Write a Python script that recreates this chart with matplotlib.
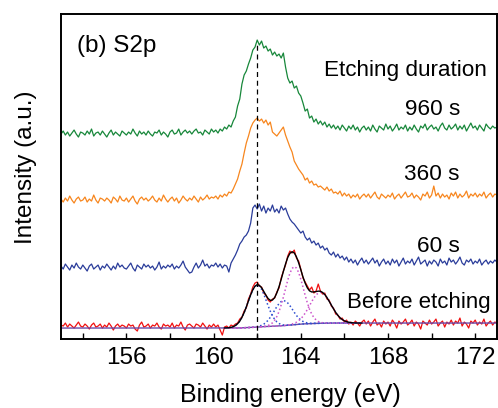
import numpy as np
import matplotlib.pyplot as plt

plt.rcParams['font.family'] = ['Liberation Sans', 'DejaVu Sans']

# binding energy grid (eV), 0.1 eV steps
be = np.linspace(153.0, 173.0, 201)
# sub-range used by the peak fit of the "before etching" spectrum
be_fit = np.linspace(160.5, 166.8, 64)

# spectra, stacked offsets already included (a.u.)
s960 = [205, 208, 204, 207, 203, 206, 209, 205, 202, 207,
        206, 204, 208, 205, 210, 203, 206, 207, 204, 208,
        205, 202, 206, 209, 204, 207, 205, 203, 208, 206,
        204, 207, 205, 210, 206, 203, 208, 205, 207, 204,
        208, 205, 203, 207, 206, 209, 204, 207, 205, 202,
        207, 209, 205, 206, 210, 204, 207, 209, 206, 208,
        205, 208, 210, 206, 207, 204, 209, 207, 205, 210,
        207, 209, 206, 210, 208, 212, 210, 214, 212, 218,
        222, 233, 240, 255, 264, 268, 275, 281, 289, 292,
        299, 294, 298, 291, 293, 288, 290, 284, 287, 283,
        285, 281, 286, 272, 261, 256, 258, 251, 253, 246,
        243, 236, 228, 230, 221, 223, 217, 220, 215, 218,
        214, 217, 212, 215, 211, 214, 210, 213, 209, 214,
        211, 208, 213, 210, 214, 209, 212, 207, 211, 213,
        209, 212, 208, 214, 210, 207, 213, 211, 209, 215,
        210, 213, 208, 211, 215, 209, 212, 210, 214, 208,
        212, 209, 214, 210, 207, 213, 211, 215, 209, 212,
        214, 210, 212, 208, 213, 216, 211, 209, 214, 210,
        212, 215, 209, 213, 210, 214, 208, 212, 216, 211,
        213, 209, 214, 211, 208, 215, 212, 210, 213, 211,
        212]

s360 = [140, 137, 141, 138, 143, 139, 136, 140, 142, 138,
        139, 142, 137, 140, 138, 144, 139, 136, 141, 140,
        138, 141, 139, 136, 142, 140, 137, 143, 139, 138,
        141, 137, 140, 143, 138, 135, 140, 142, 139, 141,
        138, 140, 143, 139, 137, 141, 138, 144, 140, 137,
        140, 142, 138, 141, 136, 139, 143, 140, 138, 141,
        139, 143, 140, 137, 142, 139, 141, 144, 140, 142,
        141, 143, 140, 144, 142, 145, 143, 147, 146, 150,
        155, 160, 168, 175, 186, 196, 203, 211, 216, 219,
        221, 218, 220, 216, 219, 214, 217, 207, 205, 203,
        206, 209, 212, 204, 198, 192, 187, 178, 174, 170,
        167, 164, 159, 161, 156, 158, 154, 155, 152, 153,
        151, 149, 152, 148, 150, 146, 147, 145, 148, 143,
        146, 143, 145, 141, 144, 142, 145, 140, 143, 145,
        142, 145, 141, 144, 147, 142, 140, 145, 143, 141,
        144, 142, 146, 140, 143, 145, 141, 144, 147, 142,
        143, 146, 141, 144, 142, 139, 145, 143, 147, 141,
        144, 153, 143, 146, 141, 145, 142, 144, 140, 146,
        143, 147, 141, 145, 142, 144, 148, 141, 145, 143,
        146, 142, 145, 143, 147, 141, 144, 146, 142, 145,
        144]

s60 = [73, 70, 75, 72, 69, 74, 71, 76, 72, 70,
       74, 71, 68, 73, 75, 70, 72, 74, 69, 73,
       71, 75, 72, 69, 73, 70, 76, 72, 74, 71,
       70, 73, 76, 71, 68, 74, 72, 70, 75, 72,
       74, 71, 73, 69, 72, 77, 70, 73, 71, 74,
       72, 75, 70, 73, 71, 74, 78, 72, 69, 66,
       67, 72, 76, 71, 74, 79, 73, 75, 71, 74,
       73, 76, 72, 75, 71, 74, 73, 67, 76, 80,
       84, 89, 95, 98, 102, 104, 108, 116, 131, 134,
       130, 135, 128, 133, 126, 131, 128, 134, 127, 130,
       126, 133, 129, 131, 125, 120, 117, 115, 112, 109,
       106, 108, 102, 99, 101, 96, 98, 94, 96, 91,
       93, 89, 91, 86, 84, 87, 82, 85, 81, 83,
       79, 82, 77, 80, 76, 79, 74, 78, 81, 76,
       79, 75, 78, 81, 76, 79, 73, 77, 80, 75,
       78, 74, 80, 76, 79, 73, 77, 81, 75, 78,
       76, 80, 74, 78, 82, 75, 77, 79, 73, 78,
       75, 79, 77, 73, 80, 76, 78, 74, 81, 77,
       79, 75, 78, 82, 76, 74, 79, 77, 80, 75,
       78, 76, 80, 74, 77, 79, 75, 78, 76, 79,
       77]

s0 = [14, 13, 16, 12, 15, 13, 11, 14, 17, 13,
      12, 15, 13, 10, 14, 16, 12, 13, 15, 11,
      14, 12, 16, 13, 9, 13, 15, 12, 14, 13,
      11, 15, 13, 14, 10, 8, 14, 17, 12, 13,
      15, 11, 14, 13, 16, 12, 10, 15, 13, 14,
      12, 16, 11, 14, 13, 17, 12, 9, 14, 15,
      13, 11, 15, 14, 12, 16, 13, 10, 14, 12,
      15, 12, 14, 9, 4, 12, 13, 11, 14, 13,
      15, 16, 20, 22, 28, 31, 40, 45, 52, 56,
      57, 53, 52, 46, 44, 39, 37, 40, 41, 47,
      51, 61, 68, 74, 83, 88, 86, 89, 81, 78,
      70, 61, 57, 53, 49, 52, 46, 48, 55, 48,
      45, 46, 40, 39, 33, 31, 25, 24, 20, 21,
      17, 19, 15, 17, 14, 18, 16, 13, 17, 19,
      15, 18, 13, 17, 20, 14, 16, 12, 18, 15,
      17, 13, 19, 16, 11, 18, 15, 17, 20, 14,
      16, 19, 13, 17, 15, 10, 18, 16, 14, 19,
      15, 17, 20, 13, 16, 18, 12, 17, 15, 19,
      14, 18, 16, 21, 13, 17, 15, 11, 18, 16,
      19, 14, 17, 15, 20, 13, 16, 18, 14, 17,
      16]

# fit of the "before etching" spectrum (on be_fit)
bg_fit = [11.0, 11.0, 11.0, 11.0, 11.0, 11.0, 11.1, 11.1, 11.2, 11.3,
          11.4, 11.5, 11.6, 11.7, 11.9, 12.0, 12.1, 12.3, 12.4, 12.5,
          12.6, 12.7, 12.8, 12.9, 13.0, 13.1, 13.2, 13.4, 13.6, 13.8,
          14.0, 14.2, 14.4, 14.6, 14.8, 14.9, 15.1, 15.2, 15.3, 15.4,
          15.5, 15.6, 15.7, 15.7, 15.8, 15.8, 15.9, 15.9, 15.9, 16.0,
          16.0, 16.0, 16.0, 16.0, 16.0, 16.0, 16.0, 16.0, 16.0, 16.0,
          16.0, 16.0, 16.0, 16.0]
bg_low = 11.0
bg_high = 16.0

p1 = [0.1, 0.2, 0.3, 0.7, 1.3, 2.5, 4.2, 6.8, 10.5, 15.1,
      20.7, 26.7, 32.6, 37.5, 40.8, 42.0, 40.8, 37.5, 32.6, 26.7,
      20.7, 15.1, 10.5, 6.8, 4.2, 2.5, 1.3, 0.7, 0.3, 0.2,
      0.1] + [0.0] * 33
p2 = [0.0] * 13 + [0.1, 0.2, 0.4, 0.8, 1.5, 2.5, 4.1, 6.2, 9.0, 12.3,
                   15.9, 19.4, 22.3, 24.3, 25.0, 24.3, 22.3, 19.4, 15.9, 12.3,
                   9.0, 6.2, 4.1, 2.5, 1.5, 0.8, 0.4, 0.2, 0.1] + [0.0] * 22
p3 = [0.0] * 17 + [0.1, 0.2, 0.5, 1.0, 1.9, 3.4, 5.9, 9.5, 14.4, 20.9,
                   28.5, 36.8, 45.0, 51.8, 56.4, 58.0, 56.4, 51.8, 45.0, 36.8,
                   28.5, 20.9, 14.4, 9.5, 5.9, 3.4, 1.9, 1.0, 0.5, 0.2,
                   0.1] + [0.0] * 16
p4 = [0.0] * 28 + [0.1, 0.2, 0.4, 0.8, 1.4, 2.2, 3.5, 5.3, 7.7, 10.7,
                   14.2, 18.0, 21.9, 25.5, 28.4, 30.3, 31.0, 30.3, 28.4, 25.5,
                   21.9, 18.0, 14.2, 10.7, 7.7, 5.3, 3.5, 2.2, 1.4, 0.8,
                   0.4, 0.2, 0.1] + [0.0] * 3

ref_be = 162.0
ref_top = 294

labels = ['960 s', '360 s', '60 s', 'Before etching']
colors = ['#17873a', '#f7861e', '#2a3c9a', '#f01010']

bg = np.array(bg_fit)
bg_all = np.array([bg_low] * 75 + bg_fit + [bg_high] * 62)
envelope = bg + np.array(p1) + np.array(p2) + np.array(p3) + np.array(p4)

fig = plt.figure(figsize=(4.98, 4.08), dpi=100)
ax = fig.add_axes([0.1225, 0.169, 0.8755, 0.7966])

for s, c in zip([s960, s360, s60, s0], colors):
    ax.plot(be, s, color=c, lw=0.9)

ax.plot(be, bg_all, color='#6a4aa8', lw=1.0)
dot = (0, (1, 1.6))
ax.plot(be_fit, bg + np.array(p1), color='#2f4fd0', ls=dot, lw=1.1)
ax.plot(be_fit, bg + np.array(p2), color='#2f4fd0', ls=dot, lw=1.1)
ax.plot(be_fit, bg + np.array(p3), color='#cc55cc', ls=dot, lw=1.1)
ax.plot(be_fit, bg + np.array(p4), color='#cc55cc', ls=dot, lw=1.1)
ax.plot(be_fit, envelope, color='k', lw=1.0)

ax.vlines(ref_be, 0, ref_top, colors='k', linestyles=(0, (4, 3)), lw=0.9)

ax.set_xlim(153, 173)
ax.set_ylim(0, 325)
ax.set_xticks(np.arange(154, 173, 2))
ax.set_xticklabels(['' if t % 4 else str(t) for t in range(154, 173, 2)])
ax.set_yticks([])
ax.tick_params(axis='x', direction='in', length=4, width=1, labelsize=17.5, pad=6)
for sp in ax.spines.values():
    sp.set_linewidth(1.4)

ax.set_xlabel('Binding energy (eV)', fontsize=18, labelpad=10)
ax.xaxis.label.set_x(0.527)
ax.set_ylabel('Intensity (a.u.)', fontsize=17.5, labelpad=17)
ax.yaxis.label.set_y(0.53)

ax.text(0.037, 0.883, '(b) S2p', transform=ax.transAxes, fontsize=17.5, va='baseline')
ax.text(0.791, 0.809, 'Etching duration', transform=ax.transAxes, fontsize=16.2,
        ha='center', va='baseline')
ax.text(0.915, 0.689, labels[0], transform=ax.transAxes, fontsize=16.2, ha='right', va='baseline')
ax.text(0.915, 0.489, labels[1], transform=ax.transAxes, fontsize=16.2, ha='right', va='baseline')
ax.text(0.915, 0.268, labels[2], transform=ax.transAxes, fontsize=16.2, ha='right', va='baseline')
ax.text(0.821, 0.095, labels[3], transform=ax.transAxes, fontsize=16, ha='center', va='baseline')

fig.savefig('out.png', dpi=100)
